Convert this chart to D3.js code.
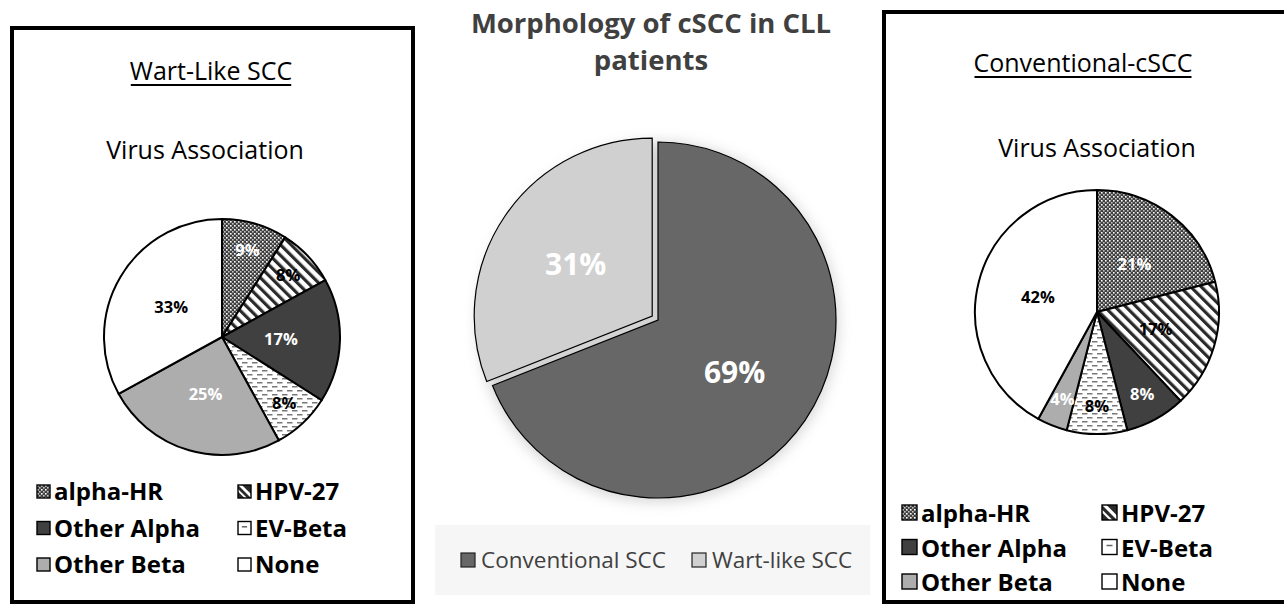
<!DOCTYPE html>
<html><head><meta charset="utf-8">
<script src="https://cdn.jsdelivr.net/npm/d3@7"></script>
<style>html,body{margin:0;padding:0;background:#fff;}svg{display:block;}</style>
</head><body>
<script>
// ---- data ----
const virusCategories = ["alpha-HR", "HPV-27", "Other Alpha", "EV-Beta", "Other Beta", "None"];
const wartLikeValues = [9, 8, 17, 8, 25, 33];
const conventionalValues = [21, 17, 8, 8, 4, 42];
const morphCategories = ["Conventional SCC", "Wart-like SCC"];
const morphValues = [69, 31];
const mainTitle = ["Morphology of cSCC in CLL", "patients"];
const panelTitles = ["Wart-Like SCC", "Conventional-cSCC"];
const panelSubtitle = "Virus Association";

const W = 1284, H = 606;
const svg = d3.select("body").append("svg").attr("width", W).attr("height", H);
const defs = svg.append("defs");
const FONT = "'Open Sans', 'Noto Sans', sans-serif";

// patterns
const pX = defs.append("pattern").attr("id", "pCross").attr("patternUnits", "userSpaceOnUse").attr("width", 4).attr("height", 4);
pX.append("rect").attr("width", 4).attr("height", 4).attr("fill", "#404040");
pX.append("rect").attr("x", 0).attr("y", 0).attr("width", 1.6).attr("height", 1.6).attr("fill", "#fff");
pX.append("rect").attr("x", 2).attr("y", 2).attr("width", 1.6).attr("height", 1.6).attr("fill", "#c4c4c4");

const pS = defs.append("pattern").attr("id", "pStripe").attr("patternUnits", "userSpaceOnUse").attr("width", 7.5).attr("height", 7.5).attr("patternTransform", "rotate(-45)");
pS.append("rect").attr("width", 7.5).attr("height", 7.5).attr("fill", "#fff");
pS.append("rect").attr("width", 3.2).attr("height", 7.5).attr("fill", "#2a2a2a");

const pD = defs.append("pattern").attr("id", "pDash").attr("patternUnits", "userSpaceOnUse").attr("width", 10).attr("height", 8);
pD.append("rect").attr("width", 10).attr("height", 8).attr("fill", "#fff");
pD.append("rect").attr("x", 0).attr("y", 1).attr("width", 5.5).attr("height", 1.5).attr("fill", "#777");
pD.append("rect").attr("x", 5).attr("y", 5).attr("width", 5.5).attr("height", 1.5).attr("fill", "#777");
pD.append("rect").attr("x", -5).attr("y", 5).attr("width", 5.5).attr("height", 1.5).attr("fill", "#777");

const virusFill = d3.scaleOrdinal().domain(virusCategories)
  .range(["url(#pCross)", "url(#pStripe)", "#404040", "url(#pDash)", "#adadad", "#ffffff"]);
const virusLabelColor = d3.scaleOrdinal().domain(virusCategories)
  .range(["#fff", "#000", "#fff", "#000", "#fff", "#000"]);

const shadow = defs.append("filter").attr("id", "blur").attr("x", "-30%").attr("y", "-30%").attr("width", "160%").attr("height", "160%");
shadow.append("feGaussianBlur").attr("stdDeviation", 7);

// ---- panel boxes ----
svg.append("rect").attr("x", 12).attr("y", 28).attr("width", 401).attr("height", 574)
  .attr("fill", "none").attr("stroke", "#000").attr("stroke-width", 4);
svg.append("rect").attr("x", 884).attr("y", 12).attr("width", 420).attr("height", 590)
  .attr("fill", "none").attr("stroke", "#000").attr("stroke-width", 4);

const pie = d3.pie().sort(null).value(d => d.v);

function virusPanel(cfg) {
  const g = svg.append("g");
  const t = g.append("text").attr("x", cfg.tx).attr("y", cfg.ty).attr("text-anchor", "middle")
    .attr("font-family", FONT).attr("font-size", 25).attr("fill", "#000").text(cfg.title);
  const bb = t.node().getBBox();
  g.append("line").attr("x1", bb.x + 1).attr("x2", bb.x + bb.width - 1).attr("y1", cfg.ty + 5).attr("y2", cfg.ty + 5)
    .attr("stroke", "#000").attr("stroke-width", 1.8);
  g.append("text").attr("x", cfg.sx).attr("y", cfg.sy).attr("text-anchor", "middle")
    .attr("font-family", FONT).attr("font-size", 25).attr("fill", "#000").text(panelSubtitle);

  const data = virusCategories.map((c, i) => ({ c, v: cfg.values[i] }));
  const arcs = pie(data);
  const arc = d3.arc().innerRadius(0).outerRadius(cfg.r);
  const pg = g.append("g").attr("transform", `translate(${cfg.cx},${cfg.cy})`);
  pg.selectAll("path").data(arcs).join("path").attr("d", arc)
    .attr("fill", d => virusFill(d.data.c)).attr("stroke", "#000").attr("stroke-width", 2).attr("stroke-linejoin", "round");
  pg.selectAll("text").data(arcs).join("text")
    .attr("transform", d => {
      const f = d.data.v < 10 ? 0.77 : 0.5;
      const a = (d.startAngle + d.endAngle) / 2;
      return `translate(${Math.sin(a) * cfg.r * f},${-Math.cos(a) * cfg.r * f})`;
    })
    .attr("text-anchor", "middle").attr("dy", "0.36em")
    .attr("font-family", FONT).attr("font-weight", "bold").attr("font-size", 16.5)
    .attr("fill", d => virusLabelColor(d.data.c)).text(d => d.data.v + "%");

  // legend (2 columns x 3 rows)
  const lg = g.append("g");
  const s = cfg.icon;
  virusCategories.forEach((c, i) => {
    const col = i % 2, row = Math.floor(i / 2);
    const x = cfg.lx + col * cfg.lcol, y = cfg.ly + row * cfg.lrow;
    const it = lg.append("g").attr("transform", `translate(${x},${y - s - 2})`);
    if (c === "HPV-27") {
      it.append("rect").attr("width", s).attr("height", s).attr("fill", "#2a2a2a");
      it.append("path").attr("d", `M0,0 L${s * 0.3},0 L${s},${s * 0.7} L${s},${s} Z`).attr("fill", "#fff");
      it.append("path").attr("d", `M0,${s * 0.3} L0,${s * 0.5} L${s * 0.5},${s} L${s * 0.7},${s} Z`).attr("fill", "#fff");
      it.append("rect").attr("width", s).attr("height", s).attr("fill", "none").attr("stroke", "#000").attr("stroke-width", 1.4);
    } else if (c === "EV-Beta") {
      it.append("rect").attr("width", s).attr("height", s).attr("fill", "#fff").attr("stroke", "#000").attr("stroke-width", 1.4);
      it.append("rect").attr("x", s * 0.3).attr("y", s * 0.35).attr("width", s * 0.4).attr("height", 1.5).attr("fill", "#666");
    } else {
      it.append("rect").attr("width", s).attr("height", s)
        .attr("fill", virusFill(c)).attr("stroke", "#000").attr("stroke-width", 1.4);
    }
    lg.append("text").attr("x", x + s + 4).attr("y", y).attr("font-family", FONT).attr("font-weight", "bold")
      .attr("font-size", 24).attr("fill", "#000").text(c);
  });
}

virusPanel({ title: panelTitles[0], tx: 211, ty: 80, sx: 205, sy: 159, values: wartLikeValues,
  cx: 222, cy: 337, r: 118, lx: 37, ly: 500, lcol: 201, lrow: 36.5, icon: 13 });
virusPanel({ title: panelTitles[1], tx: 1083, ty: 72, sx: 1097, sy: 157, values: conventionalValues,
  cx: 1097, cy: 312, r: 122, lx: 902, ly: 522, lcol: 200, lrow: 34.5, icon: 15 });

// ---- center chart ----
const cg = svg.append("g");
cg.selectAll("text.title").data(mainTitle).join("text").attr("class", "title")
  .attr("x", 651).attr("y", (d, i) => 33 + i * 37).attr("text-anchor", "middle")
  .attr("font-family", FONT).attr("font-weight", "bold").attr("font-size", 27.5).attr("fill", "#404040").text(d => d);

const mcx = 658, mcy = 320, mr = 178;
cg.append("circle").attr("cx", mcx).attr("cy", mcy + 2).attr("r", mr + 2).attr("fill", "#a0a0a0").attr("opacity", 0.45).attr("filter", "url(#blur)");
const morphColor = d3.scaleOrdinal().domain(morphCategories).range(["#676767", "#d0d0d0"]);
const mArcs = pie(morphCategories.map((c, i) => ({ c, v: morphValues[i] })));
const mArc = d3.arc().innerRadius(0).outerRadius(mr);
const mg = cg.append("g").attr("transform", `translate(${mcx},${mcy})`);
const explode = d => {
  if (d.data.c !== "Wart-like SCC") return [0, 0];
  const a = (d.startAngle + d.endAngle) / 2;
  return [Math.sin(a) * 7, -Math.cos(a) * 7];
};
mg.selectAll("path").data(mArcs).join("path")
  .attr("transform", d => `translate(${explode(d)})`)
  .attr("d", mArc).attr("fill", d => morphColor(d.data.c)).attr("stroke", "#000").attr("stroke-width", 1.2);
mg.selectAll("text").data(mArcs).join("text")
  .attr("transform", d => {
    const a = (d.startAngle + d.endAngle) / 2, e = explode(d), f = 0.52;
    return `translate(${Math.sin(a) * mr * f + e[0]},${-Math.cos(a) * mr * f + e[1]})`;
  })
  .attr("text-anchor", "middle").attr("dy", "0.36em")
  .attr("font-family", FONT).attr("font-weight", "bold").attr("font-size", 30).attr("fill", "#fff")
  .text(d => d.data.v + "%");

// center legend
cg.append("rect").attr("x", 435).attr("y", 525).attr("width", 435).attr("height", 70).attr("fill", "#f6f6f6");
const lgx = [461, 692];
morphCategories.forEach((c, i) => {
  cg.append("rect").attr("x", lgx[i]).attr("y", 553).attr("width", 14).attr("height", 14)
    .attr("fill", morphColor(c)).attr("stroke", "#222").attr("stroke-width", 1.2);
  cg.append("text").attr("x", lgx[i] + 20).attr("y", 568).attr("font-family", FONT)
    .attr("font-size", 22.5).attr("fill", "#404040").text(c);
});
</script>
</body></html>
